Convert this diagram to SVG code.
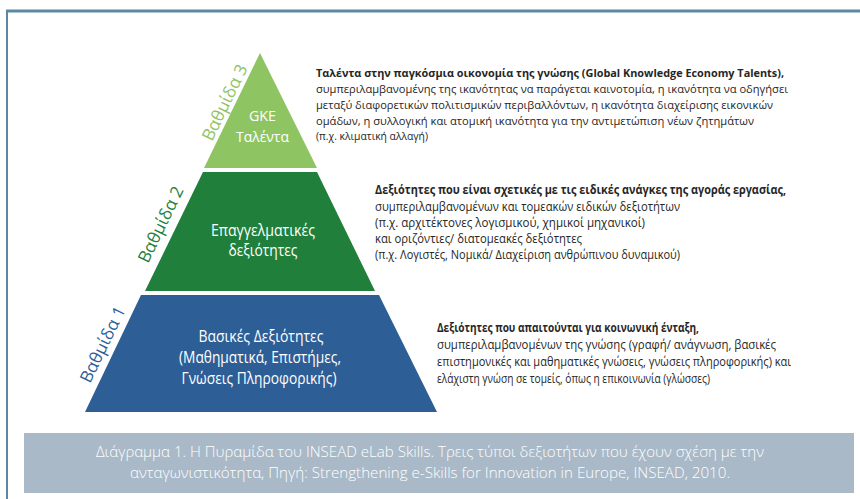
<svg xmlns="http://www.w3.org/2000/svg" width="860" height="499" viewBox="0 0 860 499">
<style>
.d{font-family:"Open Sans","Noto Sans","DejaVu Sans",sans-serif;font-size:12px;fill:#262626}
.t{font-size:11px}
.b{font-weight:bold}
.p{font-family:"Open Sans","Noto Sans","DejaVu Sans",sans-serif;font-size:16px;fill:#ffffff;text-anchor:middle}
.s{font-size:15px}
.lv{font-family:"Open Sans","Noto Sans","DejaVu Sans",sans-serif;font-size:17px;text-anchor:middle}
.cap{font-family:"Open Sans","Noto Sans","DejaVu Sans",sans-serif;font-size:14px;font-weight:300;fill:#ffffff;text-anchor:middle}
</style>
<rect x="0" y="0" width="860" height="499" fill="#ffffff"/>
<g id="frame">
<line x1="6" y1="11" x2="860" y2="11" stroke="#5d88a2" stroke-width="3"/>
<line x1="7" y1="11" x2="7" y2="499" stroke="#5d88a2" stroke-width="2"/>
</g>
<g id="level3">
<polygon points="260,53 317,168 204,168" fill="#8fc463"/>
<text class="p s" x="262.5" y="121" textLength="27" lengthAdjust="spacingAndGlyphs">GKE</text>
<text class="p s" x="262.5" y="142" textLength="53" lengthAdjust="spacingAndGlyphs">Ταλέντα</text>
<text class="lv" fill="#8fc463" transform="translate(230,105) rotate(-64)" x="0" y="0">Βαθμίδα 3</text>
</g>
<g id="level2">
<polygon points="203,172 317,172 375,291 145,291" fill="#217f3c"/>
<text class="p" x="263" y="236" textLength="104" lengthAdjust="spacingAndGlyphs">Επαγγελματικές</text>
<text class="p" x="263" y="256" textLength="69" lengthAdjust="spacingAndGlyphs">δεξιότητες</text>
<text class="lv" fill="#217f3c" transform="translate(166,227) rotate(-64)" x="0" y="0">Βαθμίδα 2</text>
</g>
<g id="level1">
<polygon points="141,295 379,295 437,412 85,412" fill="#2d5e96"/>
<text class="p" x="261" y="342" textLength="125" lengthAdjust="spacingAndGlyphs">Βασικές Δεξιότητες</text>
<text class="p" x="260" y="363" textLength="162" lengthAdjust="spacingAndGlyphs">(Μαθηματικά, Επιστήμες,</text>
<text class="p" x="259" y="384" textLength="155" lengthAdjust="spacingAndGlyphs">Γνώσεις Πληροφορικής)</text>
<text class="lv" fill="#2d5e96" transform="translate(108,347) rotate(-64)" x="0" y="0">Βαθμίδα 1</text>
</g>
<g id="desc3">
<text class="d t b" x="316" y="77" textLength="468" lengthAdjust="spacingAndGlyphs">Ταλέντα στην παγκόσμια οικονομία της γνώσης (Global Knowledge Economy Talents),</text>
<text class="d t" x="316" y="93" textLength="472" lengthAdjust="spacingAndGlyphs">συμπεριλαμβανομένης της ικανότητας να παράγεται καινοτομία, η ικανότητα να οδηγήσει</text>
<text class="d t" x="316" y="109" textLength="457" lengthAdjust="spacingAndGlyphs">μεταξύ διαφορετικών πολιτισμικών περιβαλλόντων, η ικανότητα διαχείρισης εικονικών</text>
<text class="d t" x="316" y="124.5" textLength="438" lengthAdjust="spacingAndGlyphs">ομάδων, η συλλογική και ατομική ικανότητα για την αντιμετώπιση νέων ζητημάτων</text>
<text class="d t" x="316" y="140" textLength="112" lengthAdjust="spacingAndGlyphs">(π.χ. κλιματική αλλαγή)</text>
</g>
<g id="desc2">
<text class="d b" x="375" y="194" textLength="411" lengthAdjust="spacingAndGlyphs">Δεξιότητες που είναι σχετικές με τις ειδικές ανάγκες της αγοράς εργασίας,</text>
<text class="d" x="375" y="211" textLength="305" lengthAdjust="spacingAndGlyphs">συμπεριλαμβανομένων και τομεακών ειδικών δεξιοτήτων</text>
<text class="d" x="375" y="227" textLength="270" lengthAdjust="spacingAndGlyphs">(π.χ. αρχιτέκτονες λογισμικού, χημικοί μηχανικοί)</text>
<text class="d" x="375" y="243" textLength="207" lengthAdjust="spacingAndGlyphs">και οριζόντιες/ διατομεακές δεξιότητες</text>
<text class="d" x="375" y="259" textLength="305" lengthAdjust="spacingAndGlyphs">(π.χ. Λογιστές, Νομικά/ Διαχείριση ανθρώπινου δυναμικού)</text>
</g>
<g id="desc1">
<text class="d b" x="437" y="332" textLength="262" lengthAdjust="spacingAndGlyphs">Δεξιότητες που απαιτούνται για κοινωνική ένταξη,</text>
<text class="d" x="437" y="349" textLength="339" lengthAdjust="spacingAndGlyphs">συμπεριλαμβανομένων της γνώσης (γραφή/ ανάγνωση, βασικές</text>
<text class="d" x="437" y="366" textLength="354" lengthAdjust="spacingAndGlyphs">επιστημονικές και μαθηματικές γνώσεις, γνώσεις πληροφορικής) και</text>
<text class="d" x="437" y="383" textLength="273" lengthAdjust="spacingAndGlyphs">ελάχιστη γνώση σε τομείς, όπως η επικοινωνία (γλώσσες)</text>
</g>
<g id="caption">
<rect x="24" y="433" width="830" height="60" fill="#a9b9c7"/>
<text class="cap" x="430" y="457" textLength="668" lengthAdjust="spacingAndGlyphs">Διάγραμμα 1. Η Πυραμίδα του INSEAD eLab Skills. Τρεις τύποι δεξιοτήτων που έχουν σχέση με την</text>
<text class="cap" x="430" y="478" textLength="600" lengthAdjust="spacingAndGlyphs">ανταγωνιστικότητα, Πηγή: Strengthening e-Skills for Innovation in Europe, INSEAD, 2010.</text>
</g>
</svg>
